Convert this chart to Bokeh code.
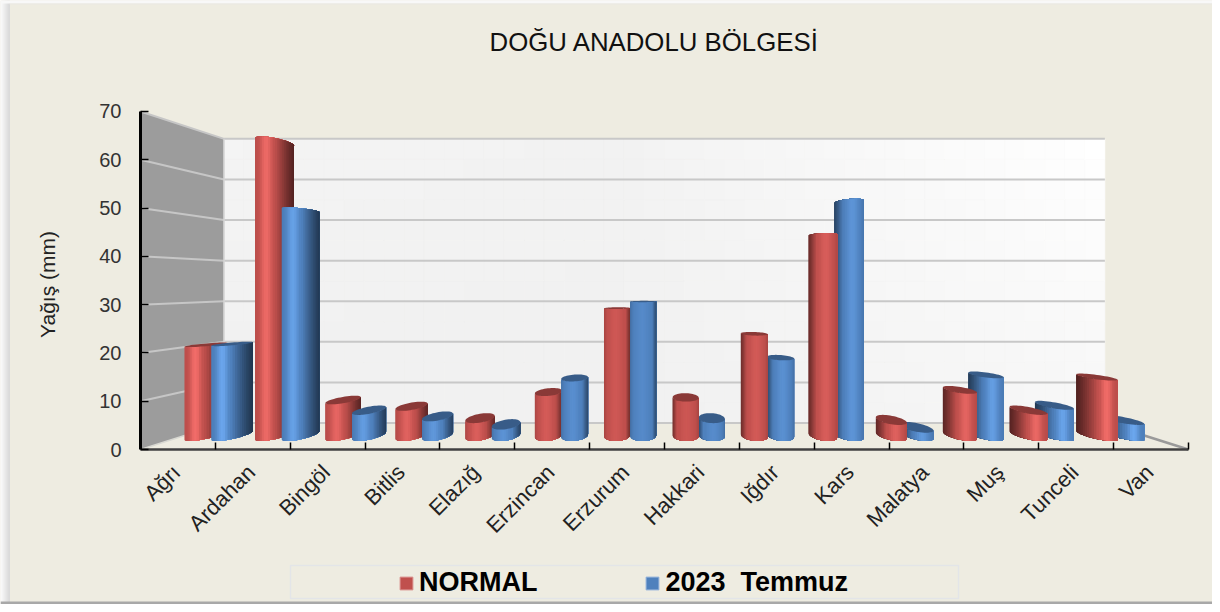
import math
from bokeh.plotting import figure
from bokeh.embed import file_html
from bokeh.resources import INLINE
from bokeh.models import LinearAxis, FixedTicker, Range1d, Label, Legend, LegendItem
from bokeh.core.properties import value

categories = ["Ağrı", "Ardahan", "Bingöl", "Bitlis", "Elazığ", "Erzincan", "Erzurum",
              "Hakkari", "Iğdır", "Kars", "Malatya", "Muş", "Tunceli", "Van"]
normal = [20.5, 66.5, 8.0, 6.6, 3.9, 9.8, 28.8, 8.6, 23.0, 45.4, 3.5, 10.3, 5.7, 13.2]
temmuz = [20.7, 51.0, 5.7, 4.3, 2.5, 13.0, 30.3, 3.9, 17.6, 52.9, 1.8, 13.7, 6.8, 3.5]
y_ticks = [0, 10, 20, 30, 40, 50, 60, 70]
title_text = "DOĞU ANADOLU  BÖLGESİ"
y_label = "Yağış (mm)"
legend_labels = ["NORMAL", "2023  Temmuz"]
RED = (192, 80, 77)
BLUE = (79, 129, 189)

# pixel geometry of the plot
W, H = 1212, 604
PX0, PXU = 140.0, 74.85      # x pixel of category 0, pixels per category
PY0, PYU = 449.0, 4.829      # y pixel of value 0, pixels per mm
xp = lambda px: (px - PX0) / PXU
yp = lambda py: (PY0 - py) / PYU

VX, VY = 7.0, 34.4           # vanishing point
S_BACK = 0.8406              # scale of the back wall
S_C, S_D = 0.915, 0.034      # depth centre and half-depth of the cylinders
RX = 0.19                    # cylinder radius, category units


def proj(x, v, s):
    return VX + (x - VX) * s, VY + (v - VY) * s


p = figure(width=W, height=H, x_axis_type=None, y_axis_type=None, toolbar_location=None,
           output_backend="svg", min_border=0,
           x_range=Range1d(xp(0), xp(W)), y_range=Range1d(yp(H), yp(0)),
           outline_line_color=None, background_fill_color="#EEECE1", border_fill_color="#EEECE1")
p.grid.visible = False

# ---- page shadow round the panel
for i in range(9):
    g = 250 - int(i * 4)
    p.quad(left=xp(i), right=xp(i + 1.5), top=yp(0), bottom=yp(H), fill_color=(g, g, g), line_color=None)
p.quad(left=xp(0), right=xp(W), top=yp(0), bottom=yp(3), fill_color="#F8F8F8", line_color=None)
p.quad(left=xp(9), right=xp(W), top=yp(3), bottom=yp(4), fill_color="#E9E8E4", line_color=None)
p.quad(left=xp(0), right=xp(W), top=yp(601), bottom=yp(H), fill_color="#A8A8A8", line_color=None)

# ---- walls
x0b, y0b = proj(0, 0, S_BACK)
x1b, y1b = proj(14, 70, S_BACK)
# side wall
p.patch([0, x0b, x0b, 0], [0, y0b, y1b, 70], fill_color="#9C9C9C", line_color=None)
# back wall with a soft diagonal gradient
NX, NY = 44, 14
l, r, b, t, cols = [], [], [], [], []
for i in range(NX):
    for j in range(NY):
        f = i / (NX - 1)
        h = j / (NY - 1)
        g = 241 + 14 * max(0.0, (f - 0.45) / 0.55) * (0.45 + 0.55 * h) + 3 * h * (1 - f)
        g = int(min(255, g))
        l.append(x0b + (x1b - x0b) * i / NX)
        r.append(x0b + (x1b - x0b) * (i + 1) / NX)
        b.append(y0b + (y1b - y0b) * j / NY)
        t.append(y0b + (y1b - y0b) * (j + 1) / NY)
        cols.append(f"#{g:02x}{g:02x}{g:02x}")
p.quad(left=l, right=r, bottom=b, top=t, fill_color=cols, line_color=cols, line_width=0.6)
# floor
p.patch([0, x0b, x1b, 14], [0, y0b, y0b, 0], fill_color="#EEECE1", line_color=None)

# grid lines on the walls
sx, sy, bx, by = [], [], [], []
for v in y_ticks:
    bxx, byy = proj(0, v, S_BACK)
    sx.append([0, bxx]); sy.append([v, byy])
    bx.append([bxx, x1b]); by.append([byy, byy])
p.multi_line(sx[1:], sy[1:], line_color="#C6C6C6", line_width=2)
p.multi_line(bx, by, line_color="#C8C8C8", line_width=2)
p.line([0, x0b], [0, y0b], line_color="#D8D8D2", line_width=1.5)
p.line([x0b, x0b], [y0b, y1b], line_color="#D4D4D4", line_width=1.5)
p.line([x1b, 14], [y0b, 0], line_color="#9A9A9A", line_width=2.5)


# ---- cylinders
def shade(u, pos):
    """brightness across the bar; u = 0..1 left to right, pos = -1..1 across the chart"""
    a = abs(pos)
    w = 0.14 + 0.42 * a
    d = 0.62 - 0.22 * a
    q = 1 - u if pos < 0 else u       # q = 0 on the dark side
    if q < w:
        return d + (1.0 - d) * (q / w) ** 1.2
    z = (q - w) / (1 - w)
    bump = (0.04 + 0.16 * a) * math.sin(math.pi * min(1, z / 0.9)) ** 2
    return 1.0 + bump - (0.14 * (1 - a)) * max(0.0, (z - 0.85) / 0.15)


def tint(c, f):
    out = []
    for ch in c:
        v = ch * f + (max(0, f - 1) * 70)
        out.append(int(max(0, min(255, v))))
    return "#%02x%02x%02x" % tuple(out)


def edge(xc, t):
    s = S_C - S_D * math.sin(t)
    return VX + (xc + RX * math.cos(t) - VX) * s, s


def tangent(xc, lo, hi, sign):
    best, bt = None, lo
    for k in range(361):
        tt = lo + (hi - lo) * k / 360
        xx = edge(xc, tt)[0] * sign
        if best is None or xx < best:
            best, bt = xx, tt
    return bt


bars = []
for i in range(len(categories)):
    bars.append((i + 0.5 - RX, normal[i], RED))
    bars.append((i + 0.5 + RX, temmuz[i], BLUE))
bars.sort(key=lambda b: -abs(b[0] - VX))

xs, ys, colors = [], [], []
NS = 26
for xc, val, base in bars:
    ta = tangent(xc, math.pi / 2, 3 * math.pi / 2, 1)
    tb = tangent(xc, 3 * math.pi / 2, 5 * math.pi / 2, -1)
    xa, xb = edge(xc, ta)[0], edge(xc, tb)[0]
    pos = (xc - VX) / 7.0
    arc = [ta + (tb - ta) * k / NS for k in range(NS + 1)]
    pts = [edge(xc, tt) for tt in arc]
    # each slice runs on to the bar's right edge, so that no seam shows between slices
    for k in range(NS):
        u = ((pts[k][0] + pts[k + 1][0]) / 2 - xa) / (xb - xa)
        rest = pts[k:]
        xs.append([q[0] for q in rest] + [q[0] for q in reversed(rest)])
        ys.append([VY + (0 - VY) * q[1] for q in rest] + [VY + (val - VY) * q[1] for q in reversed(rest)])
        colors.append(tint(base, shade(u, pos)))
    if val < VY:  # top of the cylinder visible only below eye level
        cx, cy = [], []
        for k in range(48):
            tt = 2 * math.pi * k / 48
            x_0, s0 = edge(xc, tt)
            cx.append(x_0)
            cy.append(VY + (val - VY) * s0)
        xs.append(cx)
        ys.append(cy)
        colors.append(tint(base, 0.72))
p.patches(xs, ys, fill_color=colors, line_color=None)

# ---- axes
yaxis = LinearAxis(fixed_location=0, ticker=FixedTicker(ticks=y_ticks), bounds=(0, 70),
                   axis_line_color="#000000", axis_line_width=3,
                   major_tick_line_color="#000000", major_tick_line_width=1.5,
                   major_tick_in=8, major_tick_out=0, minor_tick_line_color=None,
                   major_label_standoff=19, major_label_text_font="Liberation Sans",
                   major_label_text_font_size="20px", major_label_text_color="#333333")
p.add_layout(yaxis, "left")

xaxis = LinearAxis(fixed_location=0, ticker=FixedTicker(ticks=list(range(1, 15))), bounds=(0, 14),
                   axis_line_color="#404040", axis_line_width=2.5,
                   major_tick_line_color="#000000", major_tick_line_width=1.5,
                   major_tick_in=7, major_tick_out=0, minor_tick_line_color=None,
                   major_label_text_alpha=0)
p.add_layout(xaxis, "below")

# category labels, rotated, ending under the middle of each category
p.text(x=[i + 0.48 for i in range(len(categories))], y=[yp(468)] * len(categories), text=categories,
       angle=math.pi / 4, text_align="right", text_baseline="middle",
       text_font=value("Liberation Sans"), text_font_size="22px", text_color="#222222")

# ---- texts
p.add_layout(Label(x=xp(657.5), y=yp(41.5), text=title_text, text_align="center", text_baseline="middle",
                   text_font="Liberation Sans", text_font_size="25.8px", text_color="#111111"))
p.add_layout(Label(x=xp(47), y=yp(284), text=y_label, angle=math.pi / 2, text_align="center",
                   text_baseline="middle", text_font="Liberation Sans", text_font_size="21px",
                   text_color="#222222"))

# ---- legend
p.quad(left=xp(290), right=xp(958), top=yp(565), bottom=yp(598), fill_color=None,
       line_color="#E3E5E8", line_width=1.5)
r1 = p.quad(left=[float("nan")], right=[float("nan")], top=[float("nan")], bottom=[float("nan")],
            fill_color="#C0504D", line_color="#D98E8B")
r2 = p.quad(left=[float("nan")], right=[float("nan")], top=[float("nan")], bottom=[float("nan")],
            fill_color="#4F81BD", line_color="#8FB0DA")
legend = Legend(items=[LegendItem(label=legend_labels[0], renderers=[r1]),
                       LegendItem(label=legend_labels[1], renderers=[r2])],
                orientation="horizontal", location=(398, 6), background_fill_alpha=0,
                border_line_color=None, glyph_width=16, glyph_height=16, label_standoff=5,
                spacing=107, padding=5, margin=0, label_text_font="Liberation Sans",
                label_text_font_style="bold", label_text_font_size="27px", label_text_color="#000000")
p.add_layout(legend)

open("out.html", "w").write(file_html(p, INLINE))
